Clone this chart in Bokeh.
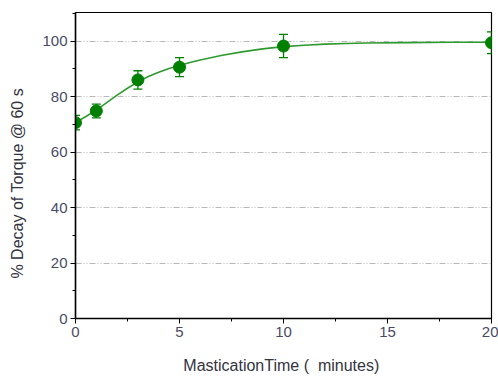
from bokeh.plotting import figure
from bokeh.models import ColumnDataSource, Range1d, SingleIntervalTicker
from bokeh.embed import file_html
from bokeh.resources import INLINE

time_min = [0, 1, 3, 5, 10, 20]
decay_pct = [70.6, 74.8, 86.0, 90.6, 98.2, 99.4]
decay_err = [2.6, 2.5, 3.3, 3.4, 4.2, 3.9]

# Fitted curve
fit_x = [0, 0.5, 1, 1.5, 2, 2.5, 3, 3.5, 4, 4.5, 5, 5.5, 6, 7, 8, 9, 10, 11, 12, 13, 14, 16, 18, 20]
fit_y = [70.6, 72.8, 75.1, 77.8, 80.5, 83.0, 85.3, 87.2, 88.8, 90.1, 91.2, 92.3, 93.2, 94.8,
         96.1, 97.2, 98.0, 98.5, 98.9, 99.1, 99.3, 99.45, 99.55, 99.6]

x_ticks = [0, 5, 10, 15, 20]
y_ticks = [0, 20, 40, 60, 80, 100]

green = "#008000"
line_green = "#2f9a2f"

lower = [v - e for v, e in zip(decay_pct, decay_err)]
upper = [v + e for v, e in zip(decay_pct, decay_err)]
src = ColumnDataSource(dict(x=time_min, y=decay_pct, lo=lower, hi=upper))

p = figure(width=498, height=380, output_backend="svg", toolbar_location=None,
           x_range=Range1d(0, 20), y_range=Range1d(0, 110.3),
           min_border_left=75, min_border_right=7, min_border_top=12, min_border_bottom=62)

p.background_fill_color = "white"
p.border_fill_color = "white"
p.outline_line_color = "black"
p.outline_line_width = 1.2

p.xaxis.ticker = SingleIntervalTicker(interval=5, num_minor_ticks=2)
p.yaxis.ticker = SingleIntervalTicker(interval=20, num_minor_ticks=2)

for ax in (p.xaxis, p.yaxis):
    ax.axis_line_color = "black"
    ax.axis_line_width = 1.5
    ax.major_tick_line_color = "black"
    ax.minor_tick_line_color = "black"
    ax.major_tick_out = 5
    ax.major_tick_in = 0
    ax.minor_tick_out = 3
    ax.minor_tick_in = 0
    ax.major_label_text_font = "Liberation Sans"
    ax.major_label_text_font_size = "15px"
    ax.major_label_text_color = "#4a4a66"
    ax.axis_label_text_font = "Liberation Sans"
    ax.axis_label_text_font_size = "16px"
    ax.axis_label_text_font_style = "normal"
    ax.axis_label_text_color = "#333340"
    ax.major_label_standoff = 3

p.xaxis.axis_label = "MasticationTime (\u00a0\u00a0minutes)\u00a0"
p.yaxis.axis_label = "% Decay of Torque @ 60 s" + "\u00a0" * 8
p.xaxis.axis_label_standoff = 17
p.yaxis.axis_label_standoff = 13

p.xgrid.grid_line_color = None
p.ygrid.grid_line_color = "#b8b8b8"
p.ygrid.grid_line_dash = "6 2 1 2 1 2"
p.ygrid.grid_line_width = 1

p.line(fit_x, fit_y, line_color=line_green, line_width=1.6)
p.segment(x0="x", y0="lo", x1="x", y1="hi", source=src, line_color=green, line_width=1.3)
p.dash(x="x", y="lo", source=src, size=9, line_color=green, line_width=1.3)
p.dash(x="x", y="hi", source=src, size=9, line_color=green, line_width=1.3)
p.scatter(x="x", y="y", source=src, size=12, fill_color=green, line_color=green)

open("out.html", "w").write(file_html(p, INLINE))
